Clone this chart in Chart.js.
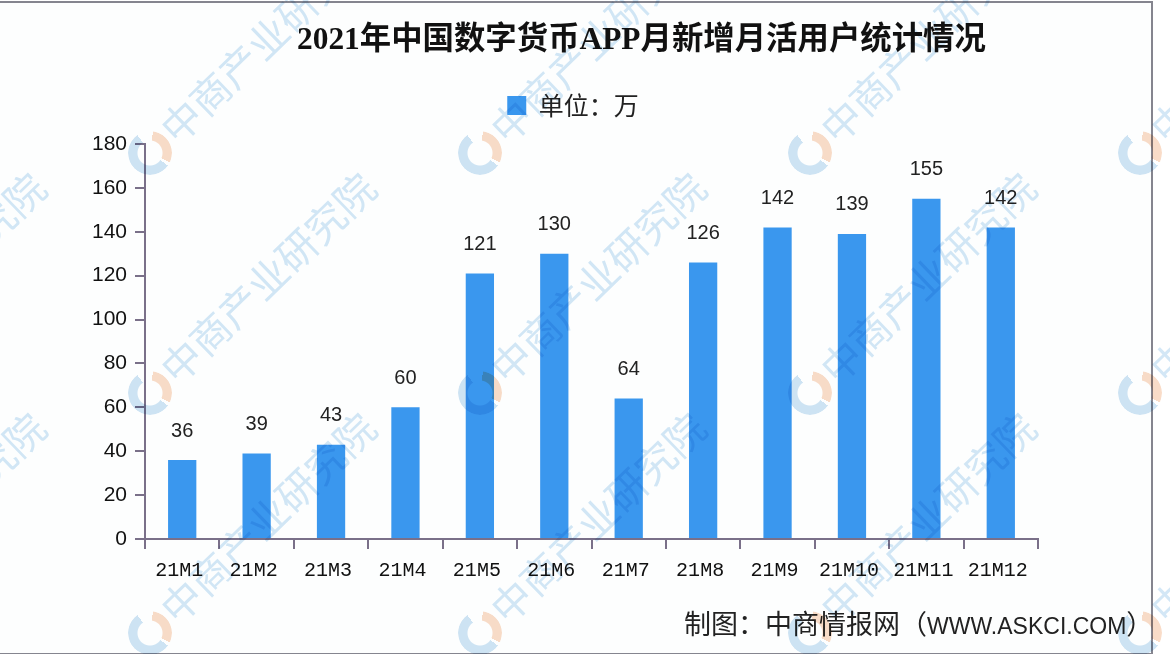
<!DOCTYPE html>
<html lang="zh-CN">
<head>
    <meta charset="UTF-8">
    <title>2021年中国数字货币APP月新增月活用户统计情况</title>
    <script src="https://cdn.jsdelivr.net/npm/chart.js@4"></script>
    <style>
        html, body { margin: 0; padding: 0; width: 1170px; height: 654px; overflow: hidden; background: #fff; }
        #frame { position: absolute; left: -2px; top: 1px; width: 1151px; height: 650px; border: 2px solid #85858f; background: #fdfefe; }
        #chart { position: absolute; left: 0; top: 0; display: block; }
        #title { position: absolute; left: 297px; top: 13px; white-space: nowrap; font: bold 31.4px "Liberation Serif", "Noto Sans CJK SC", serif; color: #111; }
        #source { position: absolute; left: 684px; top: 605px; white-space: nowrap; font: 27px "Noto Sans CJK TC", sans-serif; line-height: 36px; color: #222; }
        #source span { font-family: "Liberation Sans", sans-serif; font-size: 23px; }
        #marks { position: absolute; left: 0; top: 0; width: 1170px; height: 654px; overflow: hidden; mix-blend-mode: multiply; pointer-events: none; }
        .wm { position: absolute; white-space: nowrap; font: 40px "Noto Sans CJK SC", sans-serif; line-height: 44px; color: #d3e7f6; transform-origin: 0 50%; transform: rotate(-44deg); }
        .logo { position: absolute; width: 44px; height: 44px; border-radius: 50%;
            background: conic-gradient(#fff 0 8deg, #f9dcc8 8deg 115deg, #fff 115deg 125deg, #cfe4f4 125deg 325deg, #fff 325deg 360deg);
            -webkit-mask: radial-gradient(circle, transparent 12px, #000 13px); mask: radial-gradient(circle, transparent 12px, #000 13px); }
    </style>
</head>
<body>
    <div id="frame"></div>
    <canvas id="chart" width="1170" height="654"></canvas>
    <div id="title">2021年中国数字货币APP月新增月活用户统计情况</div>
    <div id="source">制图：中商情报网（<span>WWW.ASKCI.COM</span>）</div>
    <div id="marks"></div>

    <script>
        const categories = ['21M1', '21M2', '21M3', '21M4', '21M5', '21M6', '21M7', '21M8', '21M9', '21M10', '21M11', '21M12'];
        const newUsers = [36, 39, 43, 60, 121, 130, 64, 126, 142, 139, 155, 142];
        const seriesName = '单位：万';
        const watermark = '中商产业研究院';

        // watermark grid, repeats every 330 x 240 px
        const marks = document.getElementById('marks');
        for (let col = -1; col < 4; col++) {
            for (let row = 0; row < 3; row++) {
                const x = 150 + col * 330, y = 153 + row * 240;
                const logo = document.createElement('div');
                logo.className = 'logo';
                logo.style.left = (x - 22) + 'px';
                logo.style.top = (y - 22) + 'px';
                marks.appendChild(logo);
                const wm = document.createElement('div');
                wm.className = 'wm';
                wm.textContent = watermark;
                wm.style.left = (x + 16) + 'px';
                wm.style.top = (y - 41) + 'px';
                marks.appendChild(wm);
            }
        }

        // value labels above the bars
        const barLabels = {
            id: 'barLabels',
            afterDatasetsDraw(chart) {
                const ctx = chart.ctx;
                ctx.save();
                ctx.font = '20px "Liberation Sans", sans-serif';
                ctx.fillStyle = '#222';
                ctx.textAlign = 'center';
                ctx.textBaseline = 'middle';
                chart.getDatasetMeta(0).data.forEach((bar, i) => {
                    ctx.fillText(newUsers[i], bar.x, bar.y - 29);
                });
                ctx.restore();
            }
        };

        // legend sits left of the plot centre and higher than its layout slot
        const moveLegend = {
            id: 'moveLegend',
            afterLayout(chart) {
                chart.legend.left += 54;
                chart.legend.right += 54;
                chart.legend.top -= 16;
                chart.legend.bottom -= 16;
            }
        };

        new Chart(document.getElementById('chart'), {
            type: 'bar',
            data: {
                labels: categories,
                datasets: [{
                    label: seriesName,
                    data: newUsers,
                    backgroundColor: '#3a97ee',
                    categoryPercentage: 1,
                    barPercentage: 0.38
                }]
            },
            plugins: [barLabels, moveLegend],
            options: {
                responsive: false,
                animation: false,
                layout: { padding: { left: 0, right: 132, top: 83, bottom: 0 } },
                plugins: {
                    title: { display: false },
                    tooltip: { enabled: false },
                    legend: {
                        position: 'top',
                        labels: {
                            boxWidth: 19,
                            boxHeight: 19,
                            padding: 26,
                            color: '#222',
                            font: { size: 25, family: '"Noto Sans CJK TC", sans-serif' }
                        }
                    }
                },
                scales: {
                    x: {
                        afterFit(scale) { scale.height = 115; },
                        border: { color: '#7a7089', width: 2 },
                        grid: { drawOnChartArea: false, color: '#7a7089', tickLength: 10, lineWidth: 2 },
                        ticks: {
                            color: '#111',
                            padding: 10,
                            labelOffset: -3,
                            maxRotation: 0,
                            autoSkip: false,
                            font: { size: 20, family: '"Liberation Mono", monospace' }
                        }
                    },
                    y: {
                        min: 0,
                        max: 180,
                        afterFit(scale) { scale.width = 145; },
                        border: { color: '#7a7089', width: 2 },
                        grid: { drawOnChartArea: false, color: '#7a7089', tickLength: 10, lineWidth: 2 },
                        ticks: {
                            stepSize: 20,
                            color: '#111',
                            padding: 8,
                            font: { size: 21, family: '"Liberation Sans", sans-serif' }
                        }
                    }
                }
            }
        });
    </script>
</body>
</html>
